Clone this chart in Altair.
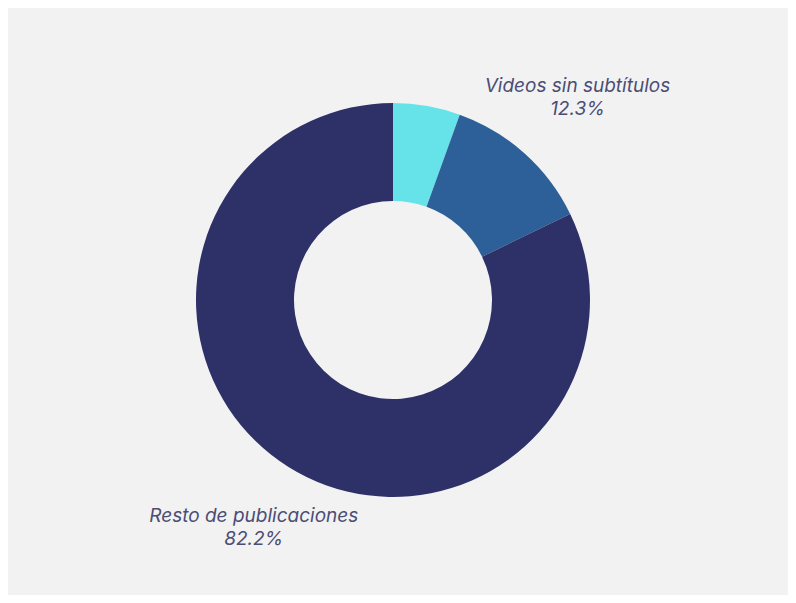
import altair as alt
import pandas as pd

categories = ["Videos con subtítulos", "Videos sin subtítulos", "Resto de publicaciones"]
values = [5.5, 12.3, 82.2]
order = [1, 2, 3]
labels = ["", "Videos sin subtítulos\n12.3%", "Resto de publicaciones\n82.2%"]
colors = ["#66e3e8", "#2d5f98", "#2e3168"]

df = pd.DataFrame({"cat": categories, "value": values, "ord": order, "label": labels})

base = alt.Chart(df).encode(
    theta=alt.Theta("value:Q", stack=True),
    order=alt.Order("ord:Q", sort="ascending"),
)

arcs = base.mark_arc(outerRadius=197, innerRadius=99).encode(
    color=alt.Color("cat:N", scale=alt.Scale(domain=categories, range=colors), legend=None)
)

text = base.mark_text(radius=270, dx=4, dy=-13, font="Inter", fontSize=19, fontStyle="italic",
                      color="#4b4d75", lineBreak="\n", align="center",
                      baseline="middle", lineHeight=23).encode(text="label:N")

chart = alt.layer(arcs, text).properties(
    width=770, height=584, background="#f2f2f2",
    padding={"left": 0, "top": 0, "right": 10, "bottom": 3},
).configure_view(stroke=None)

chart.save("out.html", embed_options={"renderer": "svg", "actions": False})
